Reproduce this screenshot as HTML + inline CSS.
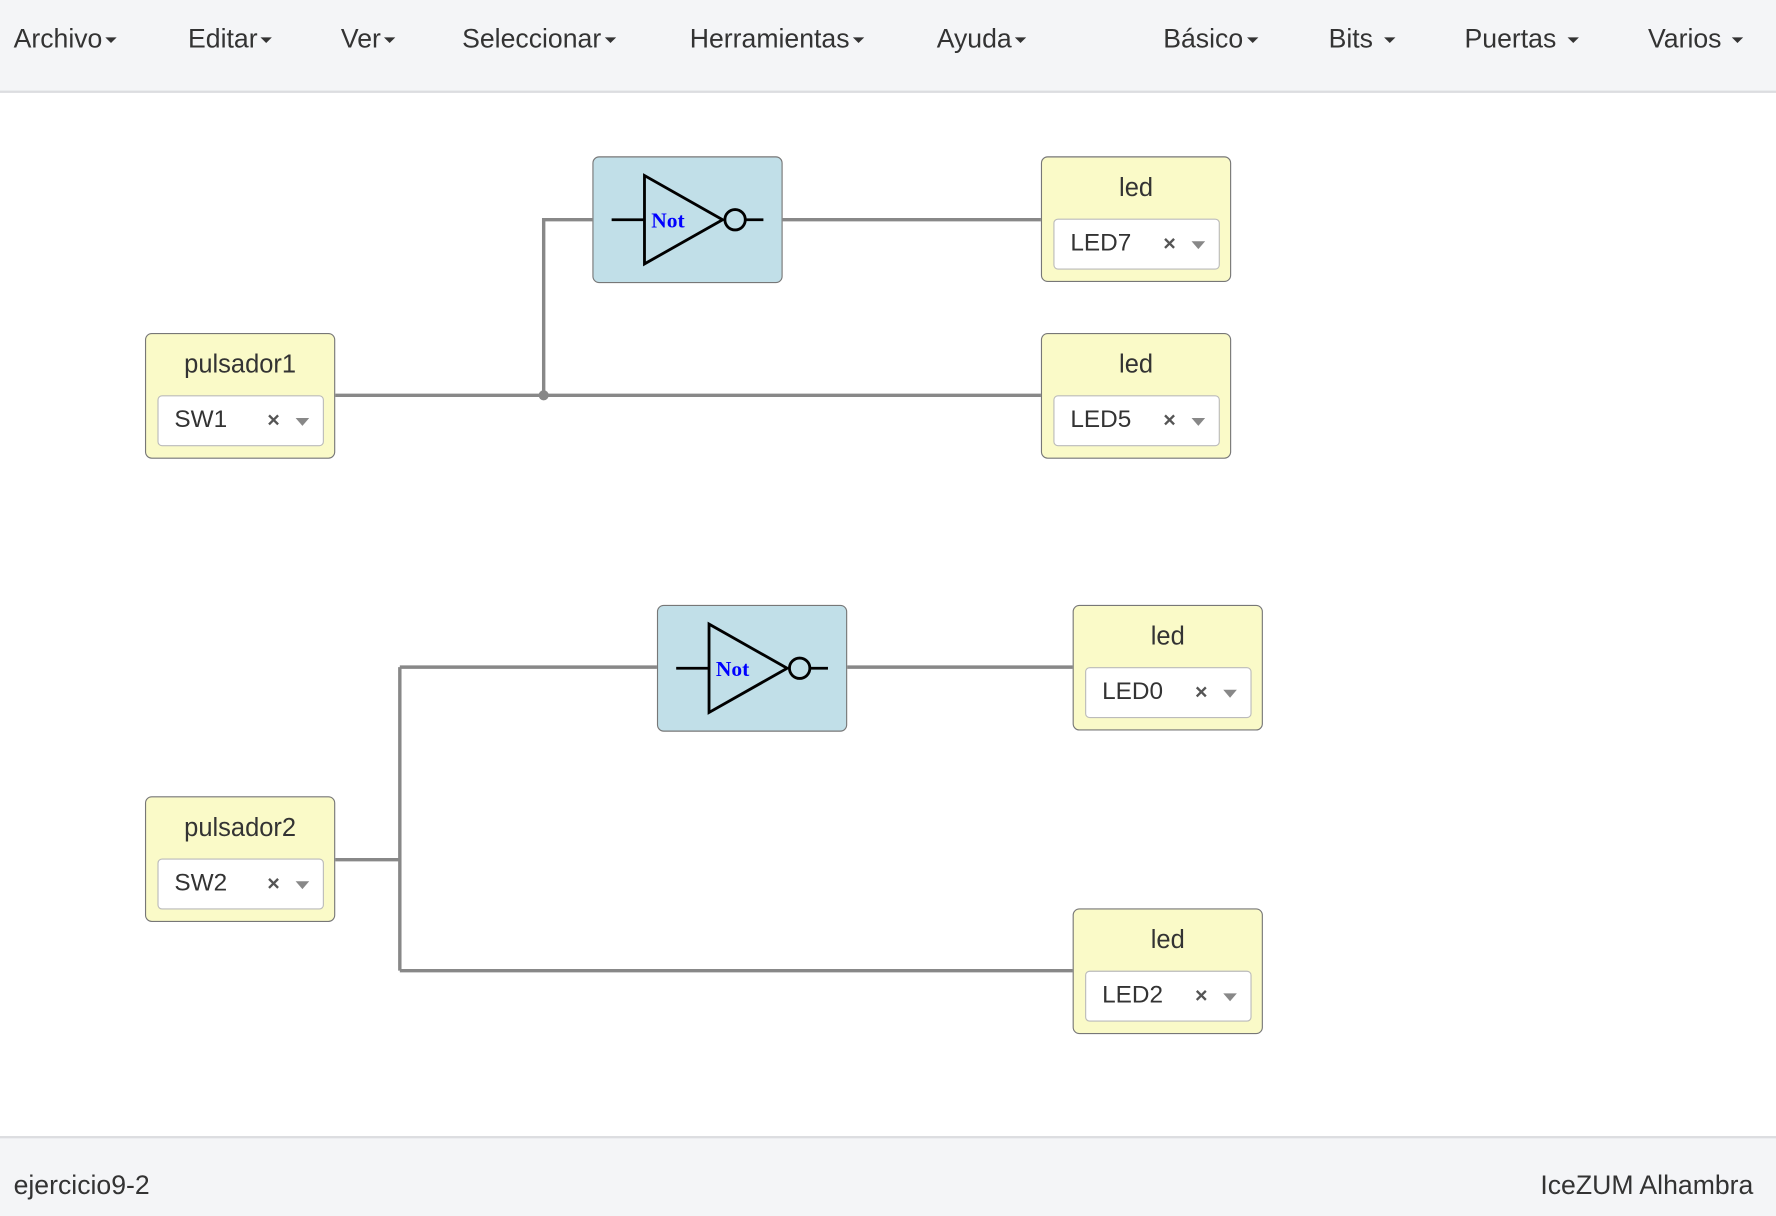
<!DOCTYPE html>
<html><head><meta charset="utf-8"><style>
html,body{margin:0;padding:0;width:1776px;height:1214px;overflow:hidden;background:#fff}
#w{position:absolute;left:0;top:0;width:1568px;height:1072px;transform:scale(1.13265);transform-origin:0 0;font-family:"Liberation Sans",sans-serif;color:#333}
.hdr{position:absolute;left:0;top:0;width:1568px;height:80px;background:#f4f5f7;border-bottom:2px solid #dcdde0}
.m{position:absolute;top:21px;font-size:23.5px}
.m:after{content:"";display:inline-block;border-left:5px solid transparent;border-right:5px solid transparent;border-top:5px solid #333;margin-left:3px;vertical-align:middle}
.ftr{position:absolute;left:0;top:1003px;width:1568px;height:69px;background:#f4f5f7;border-top:2px solid #dcdde0}
.ftr span{position:absolute;top:28px;font-size:23.5px}
.b{position:absolute;width:168px;height:111px;border:1px solid #777;border-radius:6px;background:#fafac8;box-sizing:border-box}
.b .t{position:absolute;left:0;right:0;top:14px;text-align:center;font-size:22.5px}
.b .s{position:absolute;left:10px;top:54px;width:147px;height:45px;background:#fff;border:1px solid #bbb;border-radius:4px;box-sizing:border-box}
.s .v{position:absolute;left:14px;top:8px;font-size:21.5px}
.s .x{position:absolute;left:96px;top:11px;font-size:19px;font-weight:bold;color:#555}
.s .a{position:absolute;left:121px;top:19px;border-left:6px solid transparent;border-right:6px solid transparent;border-top:7px solid #888}
.n{position:absolute;width:168px;height:112px;border:1px solid #777;border-radius:6px;background:#c1dfe8;box-sizing:border-box}
svg{position:absolute;left:0;top:0}
</style></head><body><div id="w">
<div class="hdr">
<span class="m" style="left:12px">Archivo</span>
<span class="m" style="left:166px">Editar</span>
<span class="m" style="left:301px">Ver</span>
<span class="m" style="left:408px">Seleccionar</span>
<span class="m" style="left:609px">Herramientas</span>
<span class="m" style="left:827px">Ayuda</span>
<span class="m" style="left:1027px">Básico</span>
<span class="m" style="left:1173px">Bits </span>
<span class="m" style="left:1293px">Puertas </span>
<span class="m" style="left:1455px">Varios </span>
</div>
<svg width="1568" height="1072">
<g stroke="#888" stroke-width="3" fill="none">
<path d="M296 349H919M480 349V194H523M691 194H919"/>
<path d="M296 759H353M353 589V857M353 589H580M748 589H947M353 857H947"/>
</g>
<circle cx="480" cy="349" r="4.5" fill="#888"/>
</svg>
<div class="n" style="left:523px;top:138px"></div>
<div class="n" style="left:580px;top:534px"></div>
<svg width="1568" height="1072">
<g stroke="#000" stroke-width="2.5" fill="none">
<path d="M540 194H569M569 155V233L638 194Z M659 194H674"/><circle cx="649" cy="194" r="9"/>
<path d="M597 590H626M626 551V629L695 590Z M716 590H731"/><circle cx="706" cy="590" r="9"/>
</g>
<text x="575" y="201" font-family="Liberation Serif,serif" font-weight="bold" font-size="19" fill="#00f">Not</text>
<text x="632" y="597" font-family="Liberation Serif,serif" font-weight="bold" font-size="19" fill="#00f">Not</text>
</svg>
<div class="b" style="left:919px;top:138px"><div class="t">led</div><div class="s"><span class="v">LED7</span><span class="x">×</span><span class="a"></span></div></div>
<div class="b" style="left:919px;top:294px"><div class="t">led</div><div class="s"><span class="v">LED5</span><span class="x">×</span><span class="a"></span></div></div>
<div class="b" style="left:128px;top:294px"><div class="t">pulsador1</div><div class="s"><span class="v">SW1</span><span class="x">×</span><span class="a"></span></div></div>
<div class="b" style="left:947px;top:534px"><div class="t">led</div><div class="s"><span class="v">LED0</span><span class="x">×</span><span class="a"></span></div></div>
<div class="b" style="left:128px;top:703px"><div class="t">pulsador2</div><div class="s"><span class="v">SW2</span><span class="x">×</span><span class="a"></span></div></div>
<div class="b" style="left:947px;top:802px"><div class="t">led</div><div class="s"><span class="v">LED2</span><span class="x">×</span><span class="a"></span></div></div>
<div class="ftr"><span style="left:12px">ejercicio9-2</span><span style="right:20px">IceZUM Alhambra</span></div>
</div></body></html>
